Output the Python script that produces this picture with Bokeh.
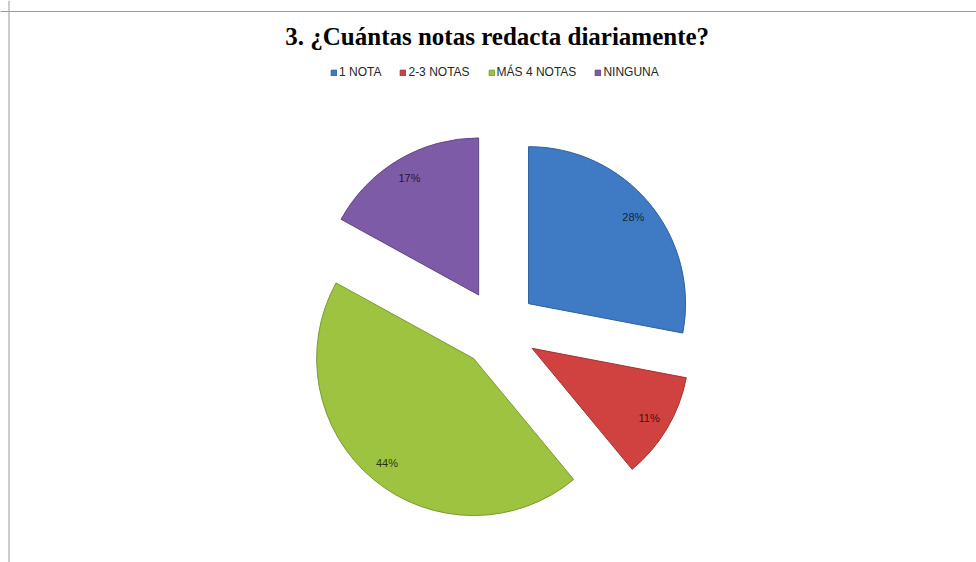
import math
from bokeh.plotting import figure
from bokeh.models import Range1d, Label, Legend, LegendItem, Span, ColumnDataSource
from bokeh.embed import file_html
from bokeh.resources import INLINE
from bokeh.core.properties import value

# ---- data ----
title_text = "3. ¿Cuántas notas redacta diariamente?"
categories = ["1 NOTA", "2-3 NOTAS", "MÁS 4 NOTAS", "NINGUNA"]
percentages = [28, 11, 44, 17]
fill_colors = ["#3f7bc4", "#d0423f", "#9dc340", "#7d5ba6"]
edge_colors = ["#2f5f9a", "#a23230", "#7a9a32", "#5f4584"]

# ---- layout ----
W, H = 976, 562
CX, CY = 498, 234
R = 157
EXPLODE = 39
LABEL_DIST = 136

total = float(sum(percentages))
xs, ys, starts, ends, lxs, lys, texts = [], [], [], [], [], [], []
cum = 0.0
for v in percentages:
    t1 = 2 * math.pi * cum / total          # clockwise from 12 o'clock
    cum += v
    t2 = 2 * math.pi * cum / total
    mid = (t1 + t2) / 2
    dx, dy = math.sin(mid), math.cos(mid)
    ax, ay = CX + EXPLODE * dx, CY + EXPLODE * dy
    xs.append(ax)
    ys.append(ay)
    starts.append(math.pi / 2 - t2)
    ends.append(math.pi / 2 - t1)
    lxs.append(ax + LABEL_DIST * dx)
    lys.append(ay + LABEL_DIST * dy)
    texts.append(f"{v}%")

src = ColumnDataSource(dict(x=xs, y=ys, start=starts, end=ends,
                            fill=fill_colors, edge=edge_colors,
                            cat=categories, lx=lxs, ly=lys, txt=texts))

p = figure(width=W, height=H, x_range=Range1d(0, W), y_range=Range1d(0, H),
           output_backend="svg", toolbar_location=None, min_border=0,
           x_axis_location=None, y_axis_location=None,
           outline_line_color=None, background_fill_color="white",
           border_fill_color="white")
p.grid.visible = False

# chart frame (top and left edges visible in reference)
p.add_layout(Span(location=551, dimension="width", line_color="#9a9a9a", line_width=1))
p.add_layout(Span(location=8.5, dimension="height", line_color="#9a9a9a", line_width=1))

wedges = p.wedge(x="x", y="y", radius=R, start_angle="start", end_angle="end",
                 direction="anticlock", fill_color="fill", line_color="edge",
                 line_width=1, source=src)

p.text(x="lx", y="ly", text="txt", source=src, text_align="center",
       text_baseline="middle", text_font=value("Liberation Sans"),
       text_font_size="11px", text_color="black", text_alpha=0.75)

title = Label(x=496.7, y=526, text=title_text, text_align="center",
              text_baseline="alphabetic", text_font="Liberation Serif",
              text_font_style="bold", text_font_size="25px", text_color="black")
p.add_layout(title)

items = [LegendItem(label=c, renderers=[wedges], index=i) for i, c in enumerate(categories)]
legend = Legend(items=items, orientation="horizontal", location=(330, 483),
                glyph_width=7, glyph_height=7, label_standoff=2, spacing=18,
                padding=0, margin=0, border_line_color=None,
                background_fill_alpha=0, label_text_font="Liberation Sans",
                label_text_font_size="12px", label_text_color="#262626")
p.add_layout(legend, "center")

open("out.html", "w").write(file_html(p, INLINE))
